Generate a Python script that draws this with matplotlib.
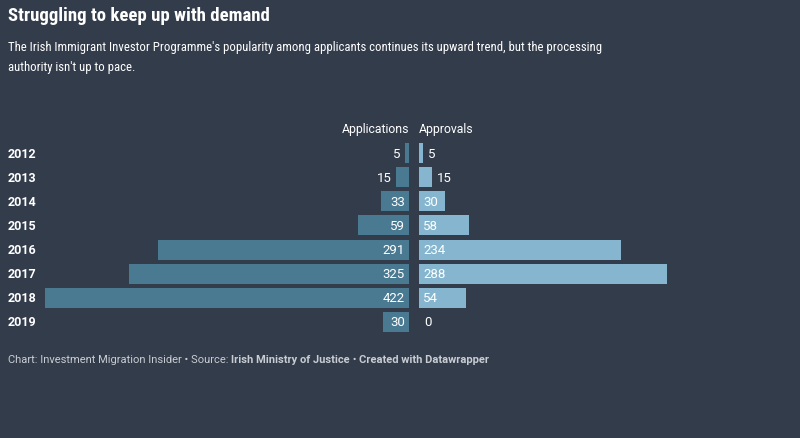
import matplotlib.pyplot as plt
from matplotlib import font_manager
import numpy as np

years = ["2012", "2013", "2014", "2015", "2016", "2017", "2018", "2019"]
applications = [5, 15, 33, 59, 291, 325, 422, 30]
approvals = [5, 15, 30, 58, 234, 288, 54, 0]

BG = "#333c4b"
APP_COLOR = "#4a7a92"
APR_COLOR = "#86b6cf"

plt.rcParams["font.family"] = ["Roboto", "DejaVu Sans"]

# headline font is a condensed face in the original; use one if installed
installed = {f.name for f in font_manager.fontManager.ttflist}
head_font = "Roboto"
for cand in ["Roboto Condensed", "Liberation Sans Narrow", "DejaVu Sans Condensed"]:
    if cand in installed:
        head_font = cand
        break

W, H = 800, 439
fig = plt.figure(figsize=(W / 100, H / 100), dpi=100, facecolor=BG)


def px_box(x0, y0, x1, y1):
    # pixel box (top-left origin) -> figure fraction
    return [x0 / W, 1 - y1 / H, (x1 - x0) / W, (y1 - y0) / H]


xmax = 422
ax_l = fig.add_axes(px_box(45, 142, 409, 335))
ax_r = fig.add_axes(px_box(419, 142, 783, 335))

y = np.arange(len(years))
for ax in (ax_l, ax_r):
    ax.set_facecolor("none")
    ax.set_ylim(len(years) - 0.5, -0.5)
    ax.set_xlim(0, xmax)
    ax.axis("off")
ax_l.invert_xaxis()

ax_l.barh(y, applications, height=0.83, color=APP_COLOR)
ax_r.barh(y, approvals, height=0.83, color=APR_COLOR)

lab = dict(va="center", color="white", fontsize=9.5, textcoords="offset points")
for i, v in enumerate(applications):
    if v >= 30:
        ax_l.annotate(str(v), (0, i), xytext=(-3, 0), ha="right", **lab)
    else:
        ax_l.annotate(str(v), (v, i), xytext=(-3, 0), ha="right", **lab)

for i, v in enumerate(approvals):
    if v >= 30:
        ax_r.annotate(str(v), (0, i), xytext=(3, 0), ha="left", **lab)
    else:
        ax_r.annotate(str(v), (v, i), xytext=(3.5, 0), ha="left", **lab)

for i, yr in enumerate(years):
    ypix = ax_l.transData.transform((0, i))[1]
    fig.text(8 / W, ypix / H, yr, ha="left", va="center", color="white",
             fontsize=9, fontweight="bold")

fig.text(409 / W, 1 - 130 / H, "Applications", ha="right", va="center",
         color="white", fontsize=8.8)
fig.text(419 / W, 1 - 130 / H, "Approvals", ha="left", va="center",
         color="white", fontsize=8.8)

fig.text(8 / W, 1 - 16 / H, "Struggling to keep up with demand", ha="left", va="center",
         color="white", fontsize=13.5, fontweight="bold", family=head_font)
fig.text(8 / W, 1 - 47 / H,
         "The Irish Immigrant Investor Programme's popularity among applicants continues its upward trend, but the processing",
         ha="left", va="center", color="white", fontsize=9.2, family=head_font)
fig.text(8 / W, 1 - 67 / H, "authority isn't up to pace.", ha="left", va="center",
         color="white", fontsize=9.2, family=head_font)

# footer: regular and bold pieces placed one after another
foot_color = "#c9cdd3"
parts = [("Chart: Investment Migration Insider \u2022 Source: ", "normal"),
         ("Irish Ministry of Justice", "bold"),
         (" \u2022 ", "normal"),
         ("Created with Datawrapper", "bold")]
fig.canvas.draw()
renderer = fig.canvas.get_renderer()
xpos = 8
for txt, wt in parts:
    t = fig.text(xpos / W, 1 - 360 / H, txt, ha="left", va="center", color=foot_color,
                 fontsize=8, fontweight=wt)
    xpos += t.get_window_extent(renderer).width

fig.savefig("out.png", dpi=100, facecolor=BG)
